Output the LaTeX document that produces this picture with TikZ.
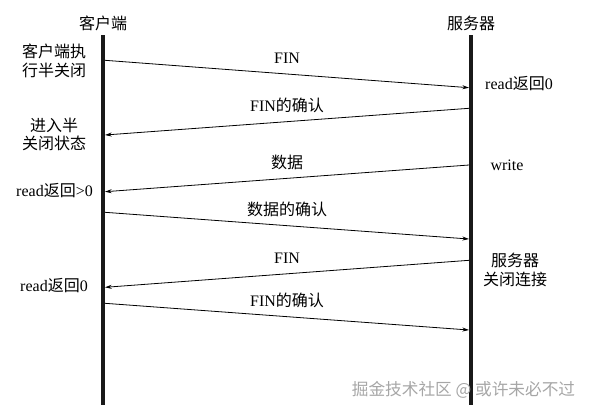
\documentclass[tikz,border=0pt]{standalone}
\usepackage{fontspec}
\setmainfont{Liberation Serif}
\newfontfamily\cjk{Noto Sans CJK SC}
\newcommand{\zh}[1]{{\cjk #1}}
\usetikzlibrary{arrows.meta}

\begin{document}
\begin{tikzpicture}[x=0.75pt, y=-0.75pt, font=\fontsize{12}{14}\selectfont,
  life/.style={line width=3pt, black!90},
  msg/.style={line width=0.6pt, -{Stealth[length=5pt,width=3pt]}},
  lbl/.style={midway, above=2pt, text height=10pt, text depth=2pt},
  note/.style={align=center}]
\useasboundingbox (0,0) rectangle (591,412);
\node (cli) at (103,23) {\zh{客户端}};
\node (srv) at (471,23) {\zh{服务器}};
\coordinate (ct) at (103,35); \coordinate (cb) at (103,405);
\coordinate (st) at (471,35); \coordinate (sb) at (471,405);
\draw[life] (ct)--(cb);
\draw[life] (st)--(sb);
\foreach \n/\y in {1/60.3,2/135,3/191.7,4/212.3,5/287.3,6/303.3} \coordinate (c\n) at (105,\y);
\foreach \n/\y in {1/87.7,2/108.3,3/165,4/239,5/260.3,6/330} \coordinate (s\n) at (469,\y);
\draw[msg] (c1)--(s1) node[lbl] (m1) {FIN};
\draw[msg] (s2)--(c2) node[lbl] (m2) {FIN\zh{的确认}};
\draw[msg] (s3)--(c3) node[lbl] (m3) {\zh{数据}};
\draw[msg] (c4)--(s4) node[lbl] (m4) {\zh{数据的确认}};
\draw[msg] (s5)--(c5) node[lbl] (m5) {FIN};
\draw[msg] (c6)--(s6) node[lbl] (m6) {FIN\zh{的确认}};
\node[note] (n1) at (54,61) {\zh{客户端执}\\\zh{行半关闭}};
\node[note] (n2) at (54,134.5) {\zh{进入半}\\\zh{关闭状态}};
\node[note] (n3) at (54.5,191) {read\zh{返回}>0};
\node[note] (n4) at (54,286) {read\zh{返回}0};
\node[note] (n5) at (519,84) {read\zh{返回}0};
\node[note] (n6) at (507,165) {write};
\node[note] (n7) at (515,270) {\zh{服务器}\\\zh{关闭连接}};
\node[text=gray!70, font=\fontsize{12.5}{14}\selectfont] (wm) at (463.5,390) {\zh{掘金技术社区 @ 或许未必不过}};
\end{tikzpicture}
\end{document}
